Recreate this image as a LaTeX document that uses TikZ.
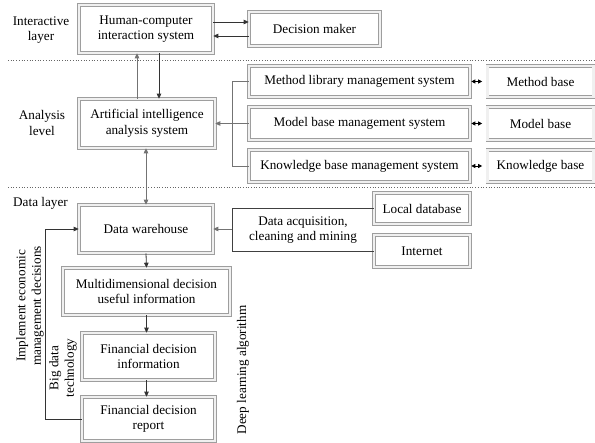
\documentclass[tikz,border=0pt]{standalone}
\usepackage{fontspec}
\setmainfont{Liberation Serif}
\usetikzlibrary{arrows.meta}
\begin{document}
\begin{tikzpicture}[x=1pt,y=-1pt,
  font=\fontsize{13.2}{15.5}\selectfont,
  bev/.style={draw=black!38, double=black!6, double distance=2.2pt, line width=0.6pt,
    fill=white, align=center, inner sep=0pt},
  lbl/.style={align=center, inner sep=0pt},
  tip/.style={-{Triangle[length=5pt,width=4.5pt]}},
  conn/.style={draw=black!55, line width=0.9pt},
  dconn/.style={draw=black!80, line width=0.8pt},
  sep/.style={draw=black!60, dotted, line width=0.7pt},
  darr/.style={{Triangle[length=4pt,width=4pt]}-{Triangle[length=4pt,width=4pt]}, draw=black, line width=0.8pt}
]
\useasboundingbox (0,0) rectangle (595,443);

% separators
\coordinate (s1a) at (8,60); \coordinate (s1b) at (595,60);
\coordinate (s2a) at (8,187); \coordinate (s2b) at (595,187);
\draw[sep] (s1a) -- (s1b);
\draw[sep] (s2a) -- (s2b);

% layer labels
\node[lbl] (lInt) at (41,30) {Interactive\\layer};
\node[lbl] (lAna) at (42,123) {Analysis\\level};
\node[lbl, anchor=west] (lDat) at (13,203) {Data layer};

% boxes
\node[bev, minimum width=134pt, minimum height=48pt] (hci) at (146,29) {Human-computer\\interaction system};
\node[bev, minimum width=131pt, minimum height=34pt] (dm) at (314.5,29) {Decision maker};
\node[bev, minimum width=136pt, minimum height=49pt] (ai) at (147,123.5) {Artificial intelligence\\analysis system};
\node[bev, minimum width=221pt, minimum height=31pt] (mlm) at (359.5,81.5) {Method library management system};
\node[bev, minimum width=221pt, minimum height=33pt] (mbm) at (359.5,123.5) {Model base management system};
\node[bev, minimum width=221pt, minimum height=32pt] (kbm) at (359.5,166) {Knowledge base management system};
\node[bev, minimum width=106pt, minimum height=31pt] (mb) at (540.5,81.5) {Method base};
\node[bev, minimum width=106pt, minimum height=33pt] (mob) at (540.5,123.5) {Model base};
\node[bev, minimum width=106pt, minimum height=32pt] (kb) at (540.5,166) {Knowledge base};

\node[bev, minimum width=134pt, minimum height=48pt] (wh) at (146,229) {Data warehouse};
\node[bev, minimum width=96pt, minimum height=31pt] (loc) at (422,208.5) {Local database};
\node[bev, minimum width=96pt, minimum height=32pt] (inet) at (422,251) {Internet};
\node[lbl] (acq) at (303,230) {Data acquisition,\\cleaning and mining};
\node[bev, minimum width=167pt, minimum height=47pt] (mdi) at (146.5,291.5) {Multidimensional decision\\useful information};
\node[bev, minimum width=133pt, minimum height=47pt] (fdi) at (148.5,356.5) {Financial decision\\information};
\node[bev, minimum width=133pt, minimum height=44pt] (fdr) at (148.5,419) {Financial decision\\report};

% rotated labels
\node[lbl, rotate=90] (impl) at (30,306) {Implement economic\\management decisions};
\node[lbl, rotate=90] (big) at (63,368) {Big data\\technology};
\node[lbl, rotate=90] (deep) at (243,370) {Deep learning algorithm};

% interactive layer arrows
\draw[dconn, tip] ([yshift=7pt]hci.east) -- ([yshift=7pt]hci.east -| dm.west);
\draw[dconn, tip] ([yshift=-7pt]dm.west) -- ([yshift=-7pt]dm.west -| hci.east);

% hci <-> ai
\draw[conn, tip] ([xshift=-10pt]ai.north) -- ([xshift=-10pt]ai.north |- hci.south);
\draw[dconn, tip] ([xshift=13pt]hci.south) -- ([xshift=13pt]hci.south |- ai.north);

% management systems to ai
\coordinate (br1) at (232,81.5);
\coordinate (br3) at (232,166);
\draw[conn] (mlm.west) -- (br1) -- (br3) -- (kbm.west);
\draw[conn, tip] (mbm.west) -- (ai.east);

% double arrows to bases
\draw[darr, shorten <=1pt, shorten >=5pt] (mlm.east) -- (mb.west);
\draw[darr, shorten <=1pt, shorten >=5pt] (mbm.east) -- (mob.west);
\draw[darr, shorten <=1pt, shorten >=5pt] (kbm.east) -- (kb.west);

% ai <-> warehouse
\draw[conn, {Triangle[length=5pt,width=4.5pt]}-{Triangle[length=5pt,width=4.5pt]}] ([xshift=-1pt]ai.south) -- (wh.north);

% acquisition bracket
\coordinate (aqT) at (232,208.5);
\coordinate (aqB) at (232,251);
\coordinate (aqM) at (232,229);
\draw[draw=black!75, line width=0.7pt] (loc.west) -- (aqT) -- (aqB) -- (inet.west);
\draw[conn, tip] (aqM) -- (wh.east);

% chain
\draw[dconn, tip] (wh.south) -- (mdi.north);
\draw[dconn, tip] (mdi.south) -- (mdi.south |- fdi.north);
\draw[dconn, tip] (mdi.south |- fdi.south) -- (mdi.south |- fdr.north);

% feedback
\coordinate (fbB) at (45,419);
\coordinate (fbT) at (45,229);
\draw[dconn, tip] (fdr.west) -- (fbB) -- (fbT) -- (wh.west);
\end{tikzpicture}
\end{document}
